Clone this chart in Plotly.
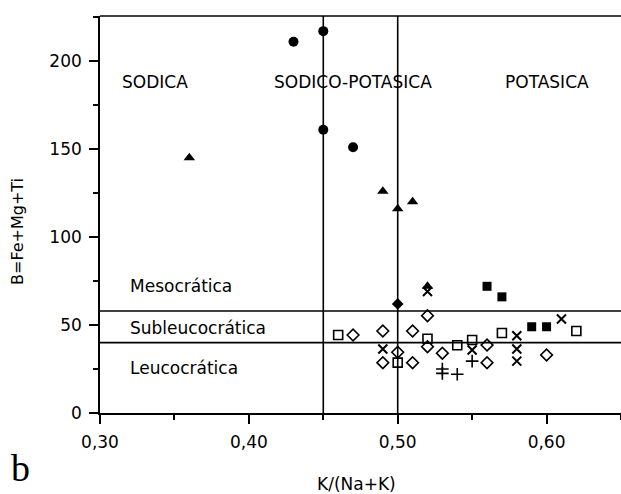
import plotly.graph_objects as go

# ---- data ----
circle_x = [0.43, 0.45, 0.45, 0.47]
circle_y = [211, 217, 161, 151]
tri_x = [0.36, 0.49, 0.50, 0.51, 0.52]
tri_y = [145, 126, 116, 120, 72]
fdiam_x = [0.50]
fdiam_y = [62]
fsq_x = [0.56, 0.57, 0.59, 0.60]
fsq_y = [72, 66, 49, 49]
odiam_x = [0.47, 0.49, 0.49, 0.50, 0.51, 0.51, 0.52, 0.52, 0.53, 0.56, 0.56, 0.60]
odiam_y = [44.3, 46.6, 28.6, 34.5, 46.6, 28.6, 55.3, 37.7, 34.0, 38.6, 28.6, 33]
osq_x = [0.46, 0.50, 0.52, 0.54, 0.55, 0.57, 0.62]
osq_y = [44.3, 28.6, 42.2, 38.5, 41.5, 45.5, 46.6]
xm_x = [0.49, 0.52, 0.55, 0.58, 0.58, 0.58, 0.61]
xm_y = [36.4, 69, 35.8, 43.9, 36.4, 29.5, 53.4]
plus_x = [0.53, 0.53, 0.54, 0.55]
plus_y = [25, 22.5, 22, 29.5]

x_tickvals = [0.30, 0.40, 0.50, 0.60]
x_ticktext = ["0,30", "0,40", "0,50", "0,60"]
x_minor = [0.35, 0.45, 0.55, 0.65]
y_tickvals = [0, 50, 100, 150, 200]
y_minor = [25, 75, 125, 175, 225]

v_lines = [0.45, 0.50]
h_lines = [58, 40]

zones = ["SODICA", "SODICO-POTASICA", "POTASICA"]
zone_x = [0.337, 0.470, 0.600]
zone_y = 188
classes = ["Mesocrática", "Subleucocrática", "Leucocrática"]
class_y = [72, 48.5, 25.5]

FONT = "DejaVu Sans"

# plot-area pixel geometry (for paper-coordinate text)
L, T, W, H = 100, 16, 521, 397

fig = go.Figure()

def add(x, y, symbol, size, lw=0):
    fig.add_trace(go.Scatter(
        x=x, y=y, mode="markers",
        marker=dict(symbol=symbol, size=size, color="black",
                    line=dict(color="black", width=lw)),
        showlegend=False, hoverinfo="skip"))

add(circle_x, circle_y, "circle", 10)
add(tri_x, tri_y, "triangle-up", 10)
add(fdiam_x, fdiam_y, "diamond", 9)
add(fsq_x, fsq_y, "square", 9)
add(odiam_x, odiam_y, "diamond-open", 9, 1.6)
add(osq_x, osq_y, "square-open", 9, 1.6)
add(xm_x, xm_y, "x-thin-open", 9, 2)
add(plus_x, plus_y, "cross-thin-open", 9, 1.6)

for v in v_lines:
    fig.add_shape(type="line", x0=v, x1=v, y0=0, y1=1, xref="x", yref="paper",
                  line=dict(color="black", width=1.6))
for h in h_lines:
    fig.add_shape(type="line", x0=0, x1=1, y0=h, y1=h, xref="paper", yref="y",
                  line=dict(color="black", width=1.6))
fig.add_shape(type="line", x0=0, x1=1, y0=1, y1=1, xref="paper", yref="paper",
              line=dict(color="black", width=1.6))

for t, zx in zip(zones, zone_x):
    fig.add_annotation(x=zx, y=zone_y, text=t, showarrow=False,
                       xanchor="center", yanchor="middle",
                       font=dict(family=FONT, size=17, color="black"))
for t, cy in zip(classes, class_y):
    fig.add_annotation(x=0.3188, y=cy, text=t, showarrow=False,
                       xanchor="left", yanchor="middle",
                       font=dict(family=FONT, size=17, color="black"))

def px(xp):
    return (xp - L) / W

def py(yp):
    return (T + H - yp) / H

# axis titles and panel letter
fig.add_annotation(x=px(356), y=py(484), xref="paper", yref="paper",
                   text="K/(Na+K)", showarrow=False,
                   xanchor="center", yanchor="middle",
                   font=dict(family=FONT, size=17, color="black"))
fig.add_annotation(x=px(18), y=py(232), xref="paper", yref="paper",
                   text="B=Fe+Mg+Ti", showarrow=False, textangle=-90,
                   xanchor="center", yanchor="middle",
                   font=dict(family=FONT, size=16, color="black"))
fig.add_annotation(x=px(20), y=py(468), xref="paper", yref="paper",
                   text="b", showarrow=False,
                   xanchor="center", yanchor="middle",
                   font=dict(family="Liberation Serif", size=38, color="black"))

axis_common = dict(showgrid=False, zeroline=False, showline=True, linecolor="black",
                   linewidth=1.6, ticks="outside", ticklen=9, tickwidth=1.6,
                   tickcolor="black", tickfont=dict(family=FONT, size=17),
                   ticklabelstandoff=4)

fig.update_layout(
    width=621, height=494,
    margin=dict(l=L, r=0, t=T, b=494 - T - H),
    paper_bgcolor="white", plot_bgcolor="white",
    font=dict(family=FONT, size=17, color="black"),
    xaxis=dict(range=[0.30, 0.65], tickvals=x_tickvals, ticktext=x_ticktext,
               minor=dict(tickvals=x_minor, ticks="outside", ticklen=5,
                          tickwidth=1.6, tickcolor="black", showgrid=False),
               **axis_common),
    yaxis=dict(range=[0, 225.6], tickvals=y_tickvals,
               minor=dict(tickvals=y_minor, ticks="outside", ticklen=5,
                          tickwidth=1.6, tickcolor="black", showgrid=False),
               **axis_common),
)

fig.write_html("out.html")
